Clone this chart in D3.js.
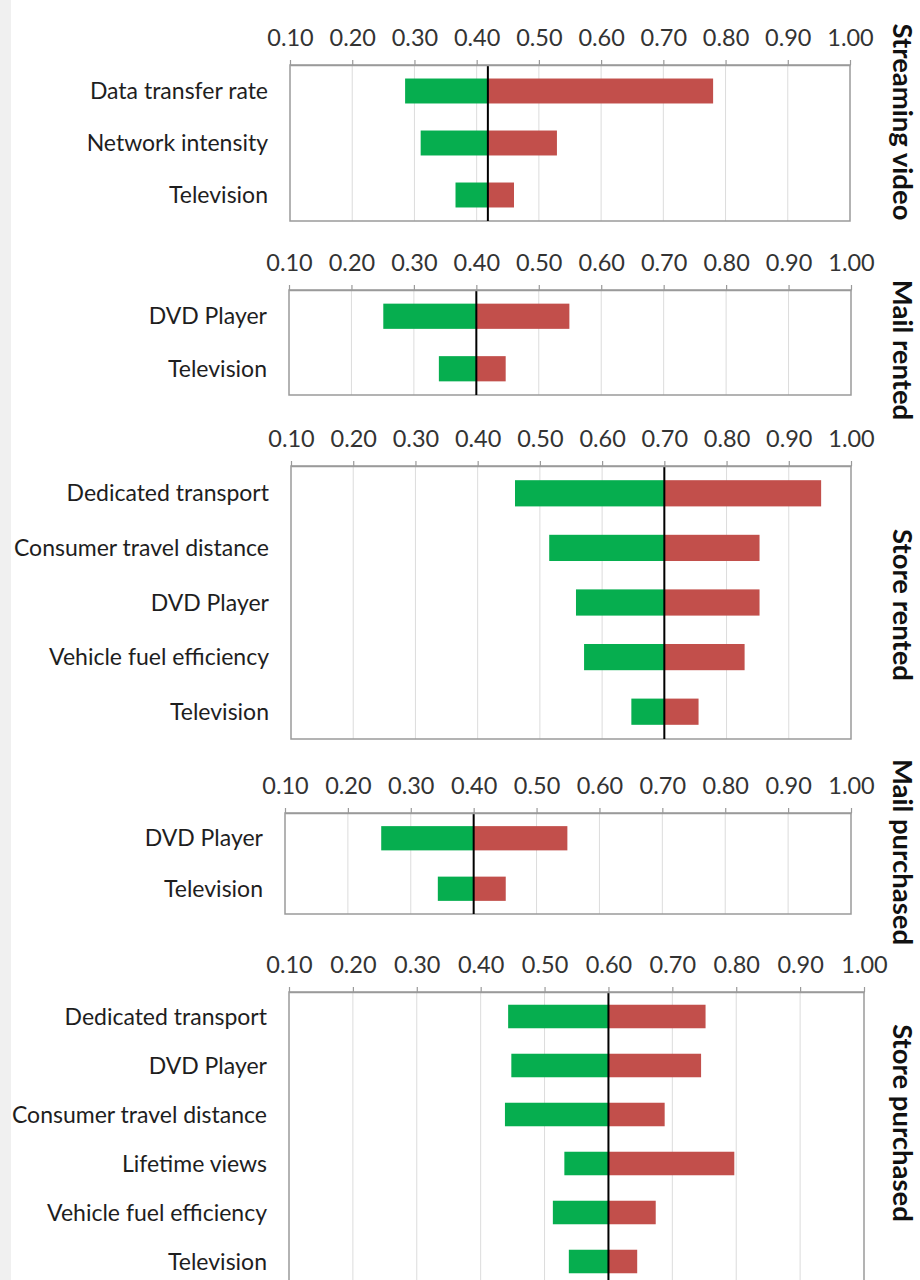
<!DOCTYPE html>
<html>
<head>
<meta charset="utf-8">
<script src="https://cdn.jsdelivr.net/npm/d3@7"></script>
<style>
  html, body { margin: 0; padding: 0; background: #ffffff; }
  svg { display: block; }
</style>
</head>
<body>
<script>
// ---------------- DATA ----------------
const panelNames = ["Streaming video", "Mail rented", "Store rented", "Mail purchased", "Store purchased"];

const streamingCats = ["Data transfer rate", "Network intensity", "Television"];
const streamingLow  = [0.285, 0.31, 0.366];
const streamingHigh = [0.78, 0.529, 0.46];
const streamingBase = 0.418;

const mailRentedCats = ["DVD Player", "Television"];
const mailRentedLow  = [0.251, 0.34];
const mailRentedHigh = [0.549, 0.447];
const mailRentedBase = 0.40;

const storeRentedCats = ["Dedicated transport", "Consumer travel distance", "DVD Player", "Vehicle fuel efficiency", "Television"];
const storeRentedLow  = [0.46, 0.515, 0.558, 0.571, 0.647];
const storeRentedHigh = [0.952, 0.853, 0.853, 0.829, 0.755];
const storeRentedBase = 0.70;

const mailPurchasedCats = ["DVD Player", "Television"];
const mailPurchasedLow  = [0.253, 0.343];
const mailPurchasedHigh = [0.549, 0.451];
const mailPurchasedBase = 0.40;

const storePurchasedCats = ["Dedicated transport", "DVD Player", "Consumer travel distance", "Lifetime views", "Vehicle fuel efficiency", "Television"];
const storePurchasedLow  = [0.443, 0.448, 0.438, 0.531, 0.513, 0.538];
const storePurchasedHigh = [0.752, 0.745, 0.688, 0.797, 0.674, 0.645];
const storePurchasedBase = 0.60;

const tickValues = [0.10, 0.20, 0.30, 0.40, 0.50, 0.60, 0.70, 0.80, 0.90, 1.00];
const xDomain = [0.10, 1.00];

// ---------------- LAYOUT (pixels, separate from data) ----------------
const W = 920, H = 1280;
const layout = [
  { x0: 290, x1: 850, top: 65,  bottom: 221,  titleY: 122 },
  { x0: 289, x1: 851, top: 290, bottom: 395,  titleY: 350 },
  { x0: 291, x1: 851, top: 466, bottom: 739,  titleY: 605 },
  { x0: 285, x1: 851, top: 813, bottom: 914,  titleY: 852 },
  { x0: 289, x1: 864, top: 992, bottom: 1286, titleY: 1123 }
];

const panelData = [
  { cats: streamingCats, low: streamingLow, high: streamingHigh, base: streamingBase },
  { cats: mailRentedCats, low: mailRentedLow, high: mailRentedHigh, base: mailRentedBase },
  { cats: storeRentedCats, low: storeRentedLow, high: storeRentedHigh, base: storeRentedBase },
  { cats: mailPurchasedCats, low: mailPurchasedLow, high: mailPurchasedHigh, base: mailPurchasedBase },
  { cats: storePurchasedCats, low: storePurchasedLow, high: storePurchasedHigh, base: storePurchasedBase }
];

const GREEN = "#06ae4f";
const RED = "#c24f4b";
const FONT = "Lato, Carlito, 'Open Sans', sans-serif";

const svg = d3.select("body").append("svg")
  .attr("width", W).attr("height", H)
  .attr("viewBox", `0 0 ${W} ${H}`);

svg.append("rect").attr("x", 0).attr("y", 0).attr("width", W).attr("height", H).attr("fill", "#ffffff");
svg.append("rect").attr("x", 0).attr("y", 0).attr("width", 11).attr("height", H).attr("fill", "#f0f0f0");

panelData.forEach((pd, i) => {
  const L = layout[i];
  const g = svg.append("g").attr("class", "panel");

  const x = d3.scaleLinear().domain(xDomain).range([L.x0, L.x1]);
  const y = d3.scaleBand().domain(pd.cats).range([L.top, L.bottom])
    .paddingInner(0.52).paddingOuter(0.26);

  // gridlines
  g.append("g").selectAll("line")
    .data(tickValues.slice(1, -1))
    .join("line")
    .attr("x1", d => x(d)).attr("x2", d => x(d))
    .attr("y1", L.top).attr("y2", L.bottom)
    .attr("stroke", "#dcdcdc").attr("stroke-width", 1);

  // bars: low side (green) and high side (red)
  const rows = pd.cats.map((c, k) => ({ cat: c, low: pd.low[k], high: pd.high[k] }));
  g.append("g").selectAll("rect")
    .data(rows).join("rect")
    .attr("x", d => x(d.low))
    .attr("y", d => y(d.cat))
    .attr("width", d => x(pd.base) - x(d.low))
    .attr("height", y.bandwidth())
    .attr("fill", GREEN);
  g.append("g").selectAll("rect")
    .data(rows).join("rect")
    .attr("x", x(pd.base))
    .attr("y", d => y(d.cat))
    .attr("width", d => x(d.high) - x(pd.base))
    .attr("height", y.bandwidth())
    .attr("fill", RED);

  // box frame
  g.append("rect")
    .attr("x", L.x0).attr("y", L.top)
    .attr("width", L.x1 - L.x0).attr("height", L.bottom - L.top)
    .attr("fill", "none").attr("stroke", "#9a9a9a").attr("stroke-width", 1.5);

  // base line
  g.append("line")
    .attr("x1", x(pd.base)).attr("x2", x(pd.base))
    .attr("y1", L.top).attr("y2", L.bottom)
    .attr("stroke", "#000").attr("stroke-width", 2);

  // top axis
  const ax = g.append("g").attr("transform", `translate(0,${L.top})`)
    .call(d3.axisTop(x).tickValues(tickValues).tickFormat(d3.format(".2f"))
      .tickSize(5).tickSizeOuter(0).tickPadding(14));
  ax.select(".domain").attr("stroke", "#9a9a9a").attr("stroke-width", 1.5);
  ax.selectAll(".tick line").attr("stroke", "#9a9a9a").attr("stroke-width", 1.2);
  ax.selectAll(".tick text")
    .attr("font-family", FONT).attr("font-size", 23.5).attr("fill", "#333");

  // category labels
  const yAx = g.append("g").attr("transform", `translate(${L.x0 - 22},0)`);
  yAx.selectAll("text").data(pd.cats).join("text")
    .attr("x", 0)
    .attr("y", d => y(d) + y.bandwidth() / 2)
    .attr("dy", "0.35em")
    .attr("text-anchor", "end")
    .attr("font-family", FONT).attr("font-size", 23).attr("fill", "#1e1e1e")
    .text(d => d);

  // rotated panel title
  g.append("text")
    .attr("transform", `translate(903,${L.titleY}) rotate(90)`)
    .attr("text-anchor", "middle")
    .attr("dy", "0.35em")
    .attr("font-family", FONT).attr("font-weight", "bold")
    .attr("font-size", 27.5).attr("fill", "#111")
    .text(panelNames[i]);
});
</script>
</body>
</html>
